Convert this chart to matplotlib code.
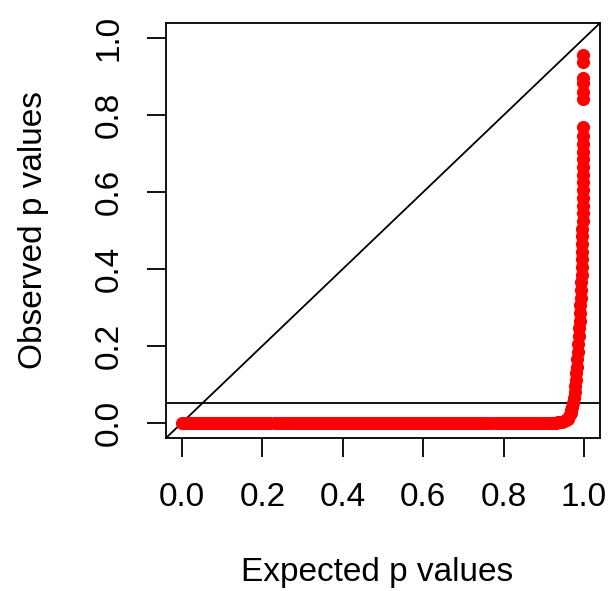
import matplotlib
matplotlib.use("Agg")
import matplotlib.pyplot as plt

plt.rcParams["font.family"] = ["Liberation Sans", "DejaVu Sans"]

# flat part of the Q-Q curve (observed p ~ 0)
expected_flat = [0.00, 0.01, 0.02, 0.03, 0.04, 0.05, 0.06, 0.07, 0.08, 0.09,
                 0.10, 0.11, 0.12, 0.13, 0.14, 0.15, 0.16, 0.17, 0.18, 0.19,
                 0.20, 0.21, 0.22, 0.23, 0.24, 0.25, 0.26, 0.27, 0.28, 0.29,
                 0.30, 0.31, 0.32, 0.33, 0.34, 0.35, 0.36, 0.37, 0.38, 0.39,
                 0.40, 0.41, 0.42, 0.43, 0.44, 0.45, 0.46, 0.47, 0.48, 0.49,
                 0.50, 0.51, 0.52, 0.53, 0.54, 0.55, 0.56, 0.57, 0.58, 0.59,
                 0.60, 0.61, 0.62, 0.63, 0.64, 0.65, 0.66, 0.67, 0.68, 0.69,
                 0.70, 0.71, 0.72, 0.73, 0.74, 0.75, 0.76, 0.77, 0.78, 0.79,
                 0.80, 0.81, 0.82, 0.83, 0.84, 0.85, 0.86, 0.87, 0.88, 0.89,
                 0.90, 0.91, 0.92]
observed_flat = [0.0] * len(expected_flat)

# tail where observed p values rise
expected_tail = [0.925, 0.930, 0.935, 0.940, 0.945, 0.950, 0.955, 0.960, 0.964, 0.967,
                 0.969, 0.971, 0.973, 0.975, 0.977, 0.979, 0.980, 0.981, 0.982, 0.984,
                 0.985, 0.986, 0.987, 0.988, 0.989, 0.990, 0.991, 0.992, 0.993, 0.993,
                 0.994, 0.994, 0.995, 0.995, 0.996, 0.996, 0.996, 0.997, 0.997, 0.997,
                 0.997, 0.997, 0.998, 0.998, 0.998, 0.998, 0.998, 0.998, 0.998, 0.998,
                 0.998, 0.998, 0.998, 0.998]
observed_tail = [0.000, 0.000, 0.001, 0.001, 0.002, 0.003, 0.006, 0.010, 0.016, 0.024,
                 0.032, 0.041, 0.050, 0.065, 0.080, 0.095, 0.112, 0.128, 0.145, 0.165,
                 0.185, 0.205, 0.225, 0.245, 0.265, 0.285, 0.305, 0.325, 0.345, 0.365,
                 0.385, 0.405, 0.425, 0.445, 0.465, 0.485, 0.505, 0.525, 0.545, 0.565,
                 0.585, 0.605, 0.625, 0.645, 0.665, 0.685, 0.705, 0.725, 0.745, 0.769,
                 0.842, 0.860, 0.883, 0.896]
expected_top = [0.998, 0.998]
observed_top = [0.938, 0.956]

ticks = [0.0, 0.2, 0.4, 0.6, 0.8, 1.0]

W, H = 609, 591
fig = plt.figure(figsize=(W / 100, H / 100), dpi=100)
ax = fig.add_axes([166 / W, 1 - 438 / H, (600 - 166) / W, (438 - 23) / H])

xs = expected_flat + expected_tail + expected_top
ys = observed_flat + observed_tail + observed_top
ax.scatter(xs, ys, s=90, color="#ff0000", linewidths=0, zorder=3)

ax.axline((0, 0), slope=1, color="black", linewidth=1.3)
ax.axhline(0.05, color="black", linewidth=1.3)

ax.set_xlim(-0.04, 1.04)
ax.set_ylim(-0.04, 1.04)
ax.set_xticks(ticks)
ax.set_yticks(ticks)
ax.set_xticklabels([f"{t:.1f}" for t in ticks])
ax.set_yticklabels([f"{t:.1f}" for t in ticks], rotation=90, va="center")
ax.tick_params(length=14, width=1.3, labelsize=24, pad=18)
ax.tick_params(axis="y", pad=16)
for sp in ax.spines.values():
    sp.set_linewidth(1.3)

fig.text(377 / W, 1 - 572 / H, "Expected p values",
         ha="center", va="center", fontsize=24)
fig.text(34 / W, 1 - 230 / H, "Observed p values",
         ha="center", va="center", rotation=90, fontsize=24)

fig.savefig("out.png", dpi=100)
